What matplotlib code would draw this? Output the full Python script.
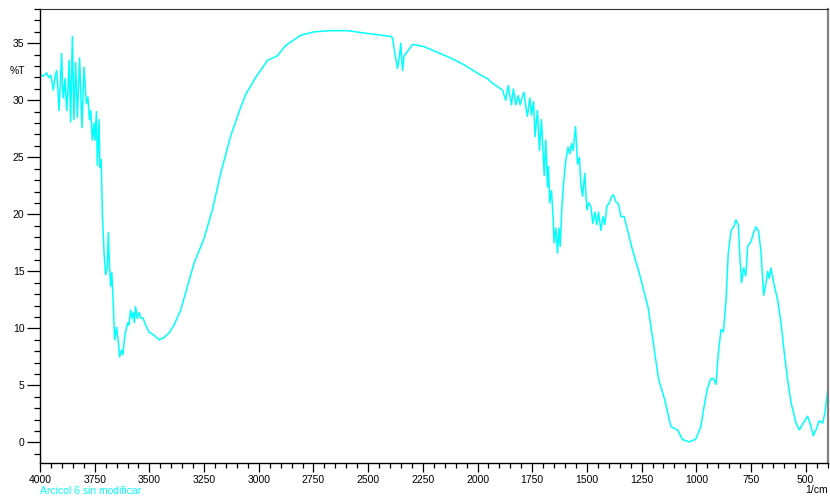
import matplotlib
matplotlib.use("Agg")
import matplotlib.pyplot as plt
from matplotlib.ticker import MultipleLocator

wavenumber = [
    4000, 3985, 3970, 3960, 3951, 3945, 3939, 3932, 3924, 3918, 3913, 3907, 3901, 3897,
    3893, 3886, 3878, 3872, 3867, 3860, 3852, 3845, 3837, 3829, 3819, 3808, 3799, 3788,
    3781, 3774, 3768, 3761, 3753, 3749, 3742, 3738, 3730, 3726, 3720, 3715, 3707, 3700,
    3692, 3688, 3682, 3677, 3672, 3665, 3659, 3650, 3643, 3636, 3627, 3621, 3613, 3604,
    3598, 3593, 3586, 3579, 3573, 3569, 3563, 3555, 3546, 3540, 3529, 3517, 3502, 3479,
    3456, 3433, 3410, 3387, 3357, 3326, 3296, 3250, 3212, 3174, 3128, 3086, 3060, 3014,
    2960, 2915, 2877, 2808, 2746, 2671, 2594, 2520, 2442, 2400, 2389, 2381, 2366, 2358,
    2351, 2343, 2336, 2323, 2297, 2244, 2183, 2122, 2061, 1985, 1955, 1932, 1909, 1886,
    1871, 1860, 1845, 1836, 1825, 1814, 1805, 1795, 1787, 1779, 1772, 1761, 1753, 1744,
    1737, 1726, 1717, 1708, 1695, 1688, 1680, 1676, 1670, 1662, 1654, 1650, 1642, 1634,
    1628, 1622, 1615, 1607, 1596, 1586, 1578, 1570, 1563, 1552, 1543, 1534, 1528, 1520,
    1510, 1500, 1491, 1482, 1473, 1464, 1455, 1447, 1436, 1427, 1418, 1409, 1398, 1386,
    1378, 1368, 1360, 1353, 1345, 1330, 1314, 1292, 1269, 1253, 1220, 1195, 1172, 1145,
    1116, 1086, 1063, 1032, 1002, 979, 964, 948, 933, 921, 910, 899, 887, 876, 864, 854,
    841, 829, 819, 808, 800, 793, 783, 774, 765, 750, 738, 727, 715, 704, 692, 681, 674,
    666, 659, 643, 628, 613, 598, 582, 567, 544, 529, 514, 491, 476, 465, 453, 438, 422,
    412, 402, 400,
]
transmittance = [
    32.3, 32.1, 32.4, 32.0, 32.2, 31.6, 30.9, 32.0, 32.6, 31.0, 29.1, 31.5, 34.1, 31.0,
    30.2, 31.9, 29.1, 31.0, 33.5, 28.1, 35.6, 28.3, 33.3, 28.5, 33.7, 27.6, 32.9, 29.7,
    30.3, 28.3, 29.1, 26.5, 28.0, 26.5, 29.0, 24.3, 28.3, 24.1, 24.8, 20.1, 16.6, 14.7,
    15.4, 18.4, 15.4, 13.7, 14.9, 12.2, 9.0, 10.1, 9.0, 7.5, 8.1, 7.7, 9.3, 10.1,
    10.5, 10.3, 11.6, 10.9, 11.4, 10.5, 11.9, 10.9, 11.4, 10.9, 10.9, 10.3, 9.7, 9.4,
    9.0, 9.2, 9.6, 10.3, 11.6, 13.7, 15.7, 17.9, 20.4, 23.6, 26.9, 29.2, 30.5, 32.0,
    33.5, 33.9, 34.8, 35.7, 36.0, 36.1, 36.1, 35.9, 35.7, 35.6, 35.5, 34.5, 32.8, 33.7,
    35.0, 32.6, 33.9, 34.2, 34.9, 34.7, 34.2, 33.7, 33.1, 32.2, 31.9, 31.5, 31.2, 30.9,
    30.0, 31.3, 29.6, 31.0, 29.6, 30.4, 29.6, 30.3, 30.7, 29.4, 28.6, 30.2, 28.7, 29.9,
    26.8, 29.1, 25.6, 28.3, 23.4, 26.5, 22.4, 24.2, 21.0, 22.1, 19.5, 17.5, 18.8, 16.6,
    18.8, 17.2, 20.4, 22.7, 24.8, 25.9, 25.3, 26.2, 25.6, 27.7, 24.4, 25.0, 22.7, 21.6,
    23.6, 20.4, 21.0, 20.7, 19.2, 20.2, 19.1, 20.2, 18.6, 19.8, 19.1, 20.7, 21.0, 21.6,
    21.7, 21.1, 21.0, 20.7, 19.8, 19.8, 18.6, 16.9, 15.4, 14.3, 11.8, 8.5, 5.5, 3.8,
    1.4, 1.1, 0.26, 0.05, 0.3, 1.4, 3.2, 4.8, 5.6, 5.6, 5.1, 7.9, 9.9, 9.7, 12.5, 16.6,
    18.6, 18.9, 19.5, 19.1, 16.0, 14.0, 15.3, 14.6, 17.2, 17.6, 18.4, 18.9, 18.5, 16.6, 12.9, 14.0, 15.0,
    14.4, 15.3, 13.7, 12.5, 10.5, 7.9, 5.4, 3.5, 1.7, 1.1, 1.6, 2.3, 1.4, 0.6, 1.1, 1.9, 1.7,
    2.6, 4.2, 4.5,
]

x_major = [4000, 3750, 3500, 3250, 3000, 2750, 2500, 2250, 2000, 1750, 1500, 1250, 1000, 750, 500]
y_major = [0, 5, 10, 15, 20, 25, 30, 35]

CYAN = "#00FFFF"
FONT = "Liberation Sans"

fig = plt.figure(figsize=(8.3, 4.98), dpi=100)
ax = fig.add_axes([40 / 830, 1 - 463 / 498, (828 - 40) / 830, (463 - 9) / 498])

ax.plot(wavenumber, transmittance, color=CYAN, lw=1.1)

ax.set_xlim(4000, 398)
ax.set_ylim(-1.8, 38.0)

ax.set_xticks(x_major)
ax.set_xticklabels([str(v) for v in x_major], fontfamily=FONT, fontsize=7.5)
ax.xaxis.set_minor_locator(MultipleLocator(50))
ax.set_yticks(y_major)
ax.set_yticklabels([str(v) for v in y_major], fontfamily=FONT, fontsize=7.5)
ax.yaxis.set_minor_locator(MultipleLocator(1))

ax.tick_params(axis="x", which="major", direction="out", length=6.5, width=0.9, pad=2, colors="black")
ax.tick_params(axis="x", which="minor", direction="out", length=3.3, width=0.9)
ax.tick_params(axis="y", which="major", direction="out", length=9.2, width=0.9, pad=2)
ax.tick_params(axis="y", which="minor", direction="out", length=4.4, width=0.9)

ax.spines["left"].set_color("black")
ax.spines["bottom"].set_color("black")
ax.spines["top"].set_color("#333333")
ax.spines["right"].set_color("#808080")
ax.spines["right"].set_linewidth(1.6)
for s in ["left", "bottom"]:
    ax.spines[s].set_linewidth(1.0)

fig.text(10 / 830, 1 - 71 / 498, "%T", fontfamily=FONT, fontsize=7.5, va="center", ha="left")
fig.text(828 / 830, 1 - 490 / 498, "1/cm", fontfamily=FONT, fontsize=7.5, va="center", ha="right")
fig.text(40 / 830, 1 - 491 / 498, "Arcicol 6 sin modificar", fontfamily=FONT, fontsize=7.5,
         va="center", ha="left", color=CYAN)

fig.savefig("out.png", dpi=100, facecolor="white")
